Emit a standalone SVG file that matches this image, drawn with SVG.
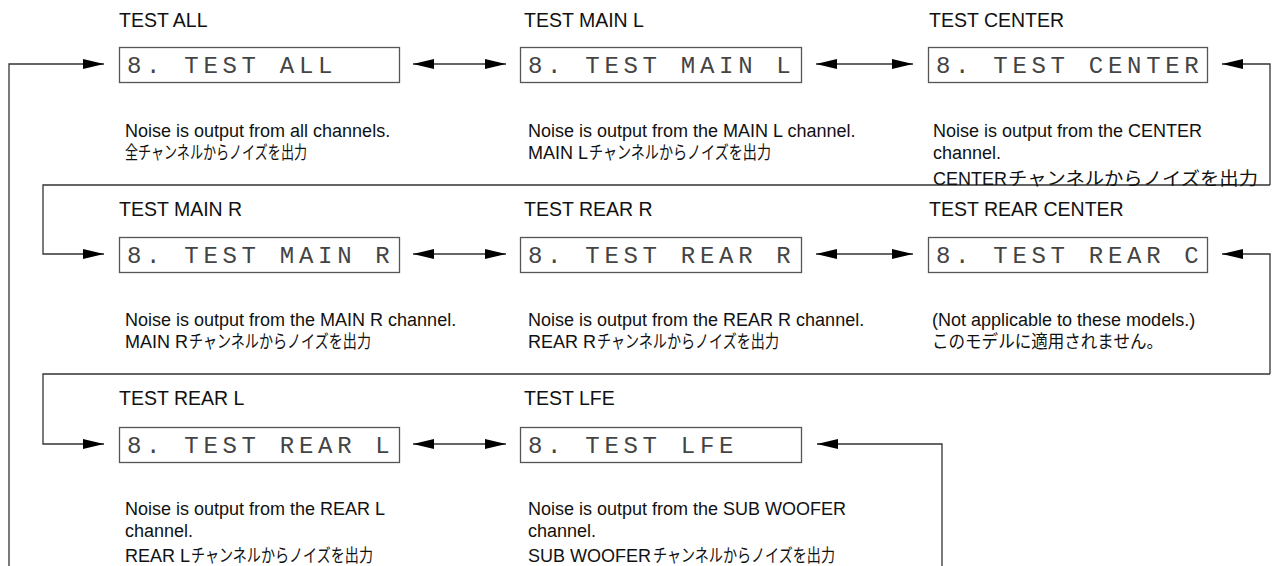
<svg xmlns="http://www.w3.org/2000/svg" width="1274" height="566" viewBox="0 0 1274 566">
<style>
.title{font-family:"Liberation Sans","Noto Sans CJK JP",sans-serif;font-size:19.5px;fill:#111}
.desc{font-family:"Liberation Sans","Noto Sans CJK JP",sans-serif;font-size:18px;fill:#111}
.jp{font-family:"Noto Sans CJK JP",sans-serif;font-size:18px;fill:#111}
.lcd{font-family:"Liberation Mono","DejaVu Sans Mono",monospace;font-size:24px;letter-spacing:4.7px;fill:#444}
.box{fill:#fff;stroke:#555;stroke-width:1.3}
.con{fill:none;stroke:#333;stroke-width:1.3}
</style>
<defs>
<marker id="ah" markerUnits="userSpaceOnUse" markerWidth="22" markerHeight="11" refX="21" refY="5" orient="auto-start-reverse">
<path d="M0,0 L21,5 L0,10 z" fill="#000"/>
</marker>
</defs>
<rect width="1274" height="566" fill="#fff"/>

<g id="connectors">
<path class="con" d="M9,566 V64 H104" marker-end="url(#ah)"/>
<path class="con" d="M413,64 H506" marker-start="url(#ah)" marker-end="url(#ah)"/>
<path class="con" d="M816,64 H913" marker-start="url(#ah)" marker-end="url(#ah)"/>
<path class="con" d="M1270,185 V64 H1222" marker-end="url(#ah)"/>
<path class="con" d="M1270,185 H43 V254 H104" marker-end="url(#ah)"/>
<path class="con" d="M413,254 H506" marker-start="url(#ah)" marker-end="url(#ah)"/>
<path class="con" d="M816,254 H913" marker-start="url(#ah)" marker-end="url(#ah)"/>
<path class="con" d="M1270,374 V254 H1222" marker-end="url(#ah)"/>
<path class="con" d="M1270,374 H43 V444 H104" marker-end="url(#ah)"/>
<path class="con" d="M413,444 H506" marker-start="url(#ah)" marker-end="url(#ah)"/>
<path class="con" d="M942,566 V444 H817" marker-end="url(#ah)"/>
</g>

<g id="test-all">
<text class="title" x="119" y="27">TEST ALL</text>
<rect class="box" x="119.5" y="47.5" width="280" height="35"/>
<text class="lcd" x="127" y="73">8. TEST ALL</text>
<text class="desc" x="125" y="137">Noise is output from all channels.</text>
<text class="jp" x="125" y="159" textLength="182" lengthAdjust="spacingAndGlyphs">全チャンネルからノイズを出力</text>
</g>

<g id="test-main-l">
<text class="title" x="524" y="27">TEST MAIN L</text>
<rect class="box" x="520.5" y="47.5" width="281" height="35"/>
<text class="lcd" x="528" y="73">8. TEST MAIN L</text>
<text class="desc" x="528" y="137">Noise is output from the MAIN L channel.</text>
<text class="desc" x="528" y="159">MAIN L</text>
<text class="jp" x="589" y="159" textLength="182" lengthAdjust="spacingAndGlyphs">チャンネルからノイズを出力</text>
</g>

<g id="test-center">
<text class="title" x="929" y="27">TEST CENTER</text>
<rect class="box" x="928.5" y="47.5" width="279" height="35"/>
<text class="lcd" x="936" y="73">8. TEST CENTER</text>
<text class="desc" x="933" y="137">Noise is output from the CENTER</text>
<text class="desc" x="933" y="159">channel.</text>
<text class="desc" x="933" y="185">CENTER</text>
<text class="jp" x="1008" y="185" textLength="250" lengthAdjust="spacingAndGlyphs">チャンネルからノイズを出力</text>
</g>

<g id="test-main-r">
<text class="title" x="119" y="216">TEST MAIN R</text>
<rect class="box" x="119.5" y="237.5" width="280" height="35"/>
<text class="lcd" x="127" y="263">8. TEST MAIN R</text>
<text class="desc" x="125" y="326">Noise is output from the MAIN R channel.</text>
<text class="desc" x="125" y="348">MAIN R</text>
<text class="jp" x="189" y="348" textLength="182" lengthAdjust="spacingAndGlyphs">チャンネルからノイズを出力</text>
</g>

<g id="test-rear-r">
<text class="title" x="524" y="216">TEST REAR R</text>
<rect class="box" x="520.5" y="237.5" width="281" height="35"/>
<text class="lcd" x="528" y="263">8. TEST REAR R</text>
<text class="desc" x="528" y="326">Noise is output from the REAR R channel.</text>
<text class="desc" x="528" y="348">REAR R</text>
<text class="jp" x="597" y="348" textLength="182" lengthAdjust="spacingAndGlyphs">チャンネルからノイズを出力</text>
</g>

<g id="test-rear-center">
<text class="title" x="929" y="216">TEST REAR CENTER</text>
<rect class="box" x="928.5" y="237.5" width="279" height="35"/>
<text class="lcd" x="936" y="263">8. TEST REAR C</text>
<text class="desc" x="932" y="326">(Not applicable to these models.)</text>
<text class="jp" x="932" y="348" textLength="231" lengthAdjust="spacingAndGlyphs">このモデルに適用されません。</text>
</g>

<g id="test-rear-l">
<text class="title" x="119" y="405">TEST REAR L</text>
<rect class="box" x="119.5" y="427.5" width="280" height="35"/>
<text class="lcd" x="127" y="453">8. TEST REAR L</text>
<text class="desc" x="125" y="515">Noise is output from the REAR L</text>
<text class="desc" x="125" y="537">channel.</text>
<text class="desc" x="125" y="562">REAR L</text>
<text class="jp" x="191" y="562" textLength="182" lengthAdjust="spacingAndGlyphs">チャンネルからノイズを出力</text>
</g>

<g id="test-lfe">
<text class="title" x="524" y="405">TEST LFE</text>
<rect class="box" x="520.5" y="427.5" width="281" height="35"/>
<text class="lcd" x="528" y="453">8. TEST LFE</text>
<text class="desc" x="528" y="515">Noise is output from the SUB WOOFER</text>
<text class="desc" x="528" y="537">channel.</text>
<text class="desc" x="528" y="562">SUB WOOFER</text>
<text class="jp" x="653" y="562" textLength="182" lengthAdjust="spacingAndGlyphs">チャンネルからノイズを出力</text>
</g>
</svg>
